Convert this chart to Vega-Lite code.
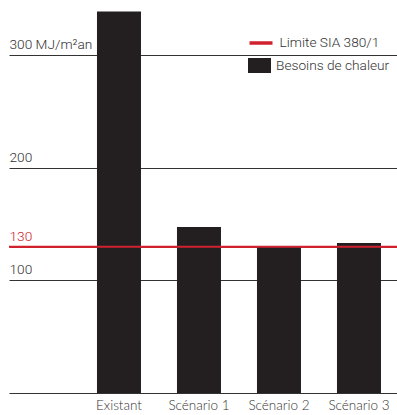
{
  "$schema": "https://vega.github.io/schema/vega-lite/v6.json",
  "width": 388,
  "height": 393,
  "autosize": {"type": "none"},
  "padding": {"left": 9, "top": 0, "right": 0, "bottom": 22},
  "background": "white",
  "config": {"view": {"stroke": null}, "font": "Roboto"},
  "datasets": {
    "besoins": [
      {"scenario": "Existant", "valeur": 339, "serie": "Besoins de chaleur"},
      {"scenario": "Scénario 1", "valeur": 147.6, "serie": "Besoins de chaleur"},
      {"scenario": "Scénario 2", "valeur": 130, "serie": "Besoins de chaleur"},
      {"scenario": "Scénario 3", "valeur": 133.3, "serie": "Besoins de chaleur"}
    ],
    "limite": [{"valeur": 130, "serie": "Limite SIA 380/1"}]
  },
  "layer": [
    {
      "data": {"name": "besoins"},
      "mark": {"type": "bar", "strokeWidth": 0},
      "encoding": {
        "x": {
          "field": "scenario",
          "type": "nominal",
          "sort": ["Existant", "Scénario 1", "Scénario 2", "Scénario 3"],
          "scale": {"paddingInner": 0.45, "paddingOuter": 0.65, "align": 0.846},
          "axis": {
            "title": null,
            "labelAngle": 0,
            "ticks": false,
            "tickSize": 0,
            "domain": true,
            "domainColor": "#333333",
            "domainWidth": 1,
            "labelPadding": 5,
            "labelFontSize": 13.5,
            "labelFont": "Lato",
            "labelFontWeight": 300,
            "labelColor": "#333333",
            "grid": false
          }
        },
        "y": {
          "field": "valeur",
          "type": "quantitative",
          "scale": {"domain": [0, 349.3], "nice": false, "zero": true},
          "axis": {
            "title": null,
            "values": [100, 130, 200, 300],
            "grid": true,
            "gridColor": {"condition": {"test": "datum.value == 130", "value": "#d0222e"}, "value": "#333333"},
            "gridWidth": 1,
            "labelColor": {"condition": {"test": "datum.value == 130", "value": "#d0222e"}, "value": "#333333"},
            "labelExpr": "datum.value == 300 ? '300 MJ/m²an' : datum.label",
            "ticks": false,
            "tickSize": 0,
            "domain": false,
            "labelAlign": "left",
            "labelBaseline": "alphabetic",
            "labelOffset": -6.5,
            "labelPadding": 0,
            "labelOverlap": false,
            "labelFontSize": 13.7,
            "labelFont": "Roboto",
            "labelFontWeight": 300
          }
        },
        "fill": {
          "field": "serie",
          "type": "nominal",
          "scale": {"range": ["#231f20"]},
          "legend": {
            "title": null,
            "orient": "none",
            "legendX": 239,
            "legendY": 54,
            "symbolType": "M-1,-0.65H1V0.65H-1Z",
            "symbolSize": 529,
            "symbolStrokeWidth": 0,
            "labelFontSize": 13.7,
            "labelOffset": 5,
            "padding": 0,
            "labelColor": "#333333",
            "labelFont": "Roboto",
            "labelFontWeight": 300
          }
        }
      }
    },
    {
      "data": {"name": "limite"},
      "mark": {"type": "rule", "strokeWidth": 2},
      "encoding": {
        "y": {"field": "valeur", "type": "quantitative"},
        "stroke": {
          "field": "serie",
          "type": "nominal",
          "scale": {"range": ["#d0222e"]},
          "legend": {
            "title": null,
            "orient": "none",
            "legendX": 238.5,
            "legendY": 29.5,
            "symbolType": "stroke",
            "symbolSize": 529,
            "symbolStrokeWidth": 3.5,
            "labelFontSize": 13.7,
            "labelOffset": 5,
            "padding": 0,
            "labelColor": "#333333",
            "labelFont": "Roboto",
            "labelFontWeight": 300
          }
        }
      }
    }
  ]
}
